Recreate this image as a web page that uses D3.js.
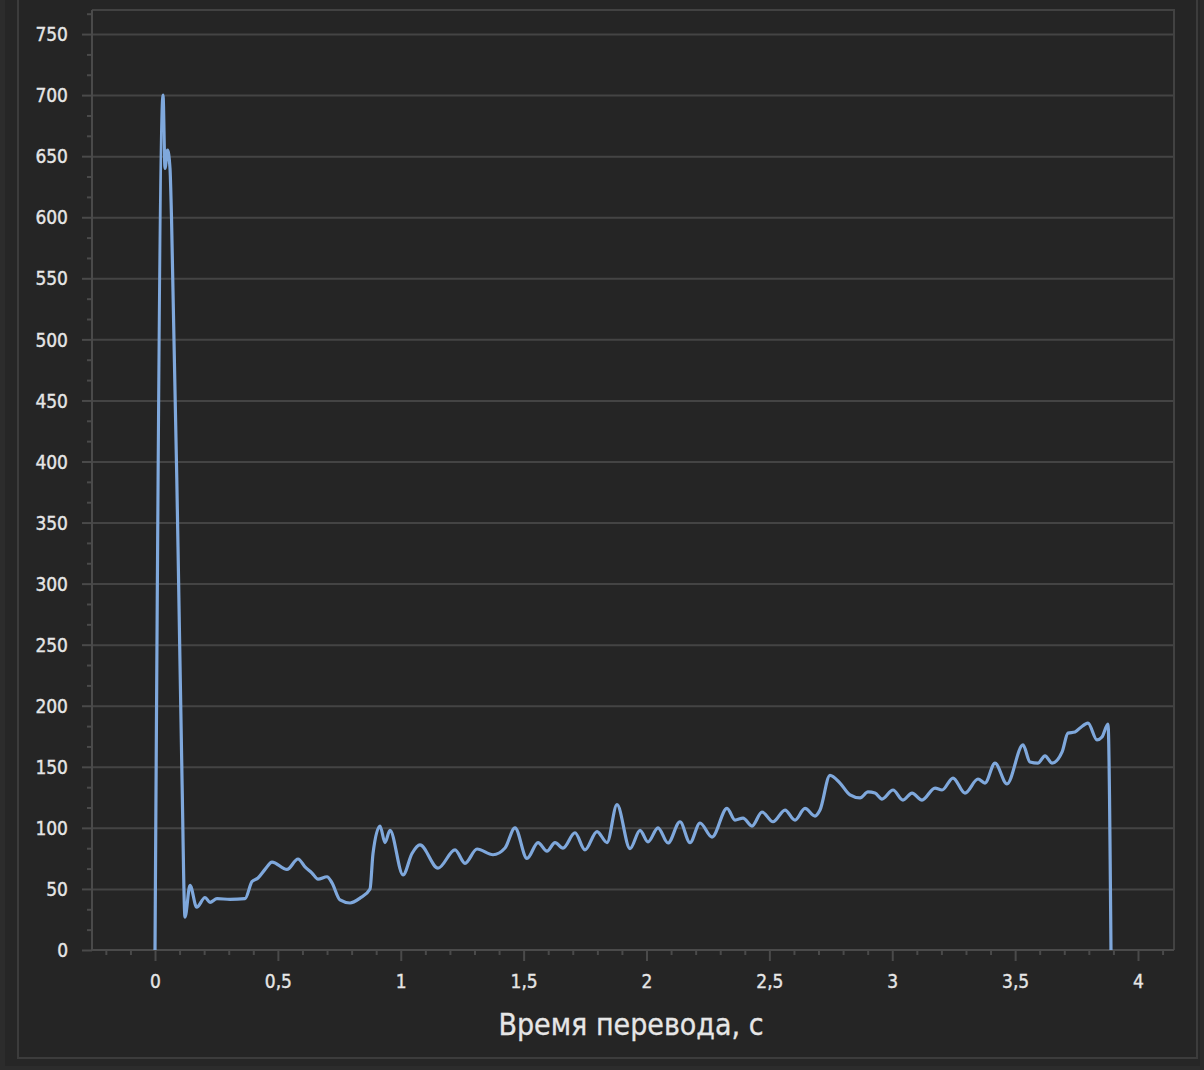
<!DOCTYPE html>
<html>
<head>
<meta charset="utf-8">
<script src="https://cdn.jsdelivr.net/npm/d3@7"></script>
<style>
  html, body { margin: 0; padding: 0; background: #2c2c2c; }
  svg { display: block; }
  .tick text { font-family: 'DejaVu Sans Condensed', 'DejaVu Sans', sans-serif; font-stretch: condensed; }
</style>
</head>
<body>
<svg id="chart" width="1204" height="1070"></svg>
<script>
// Time, s
const timeS = [
  0.000, 0.0326, 0.0407, 0.051, 0.061, 0.0671, 0.0936, 0.1099, 0.1221, 0.1424,
  0.1697, 0.2035, 0.2238, 0.2523, 0.3052, 0.3662, 0.3947, 0.4191, 0.4476, 0.4761,
  0.5371, 0.5819, 0.6104, 0.6389, 0.6633, 0.6999, 0.7202, 0.7528, 0.7935, 0.8342,
  0.8749, 0.8871, 0.9156, 0.9359, 0.9562, 1.0092, 1.0458, 1.0783, 1.1516, 1.2208,
  1.2614, 1.3103, 1.3754, 1.4242, 1.4649, 1.5137, 1.5585, 1.5951, 1.6277, 1.6602,
  1.7090, 1.7497, 1.7986, 1.8393, 1.8799, 1.9329, 1.9735, 2.0061, 2.0468, 2.0875,
  2.1363, 2.1770, 2.2177, 2.2665, 2.3276, 2.3601, 2.3927, 2.4293, 2.4700, 2.5148,
  2.5636, 2.6043, 2.6450, 2.6857, 2.7060, 2.7467, 2.7874, 2.8281, 2.8688, 2.9013,
  2.9298, 2.9583, 3.0031, 3.0437, 3.0804, 3.1211, 3.1740, 3.2025, 3.2472, 3.2960,
  3.3490, 3.3774, 3.4181, 3.4669, 3.5320, 3.5605, 3.5931, 3.6216, 3.6501, 3.6907,
  3.7152, 3.7436, 3.7640, 3.7965, 3.8332, 3.8535, 3.8779, 3.8901
];
// Measured value
const value = [
  0, 700, 640, 655, 640, 600, 330, 140, 27, 53,
  35, 43, 39, 42, 41.5, 42, 56, 59, 66, 72,
  66, 74.5, 68, 63, 58, 60, 55, 41, 38.5, 42.5,
  50, 79, 101.5, 88, 98, 61.5, 79, 86, 67, 82,
  71, 82.7, 78, 83.5, 100, 75, 88, 81, 88, 83.5,
  96, 82, 97, 88, 119, 83, 98, 88.5, 100, 87.6,
  105, 88, 104, 92.5, 116, 106.4, 108, 101.5, 113, 105,
  114.6, 106.4, 116, 109.7, 114.6, 143, 136.7, 127, 124.5, 129.4,
  128.5, 123.6, 131, 122.8, 128.5, 122.8, 132.6, 131, 140.8, 128.5,
  140, 136.7, 153, 136, 167.9, 154, 153, 159, 153, 162,
  177.6, 178.5, 181.8, 185.8, 172, 174.4, 185, 0
];

const xTickValues = [0, 0.5, 1, 1.5, 2, 2.5, 3, 3.5, 4];
const xTickLabels = ["0", "0,5", "1", "1,5", "2", "2,5", "3", "3,5", "4"];
const yTickValues = [0, 50, 100, 150, 200, 250, 300, 350, 400, 450, 500, 550, 600, 650, 700, 750];
const yTickLabels = yTickValues.map(String);
const xTitle = "Время перевода, с";

const xDomain = [-0.2564, 4.1465];
const yDomain = [0, 769.7];

const svg = d3.select("#chart");
const plot = { left: 92, right: 1174, top: 10, bottom: 950 };

// window panel and frame
svg.append("rect").attr("x", 5).attr("y", -10).attr("width", 1195).attr("height", 1076).attr("fill", "#262626");
svg.append("rect").attr("x", 18).attr("y", -10).attr("width", 1179).attr("height", 1068)
  .attr("fill", "#252525").attr("stroke", "#3c3c3c").attr("stroke-width", 2);

const x = d3.scaleLinear().domain(xDomain).range([plot.left, plot.right]);
const y = d3.scaleLinear().domain(yDomain).range([plot.bottom, plot.top]);

// horizontal grid
const grid = svg.append("g").attr("transform", `translate(${plot.left},0)`)
  .call(d3.axisLeft(y).tickValues(yTickValues.slice(1)).tickSize(-(plot.right - plot.left)).tickFormat(""));
grid.select(".domain").remove();
grid.selectAll("line").attr("stroke", "#444444").attr("stroke-width", 2);

// plot border (top / right)
svg.append("path")
  .attr("d", `M${plot.left},${plot.top}H${plot.right}V${plot.bottom}`)
  .attr("fill", "none").attr("stroke", "#424242").attr("stroke-width", 2);

// minor ticks
const yMinor = d3.range(0, 770, 50 / 3).filter(v => Math.abs(v / 50 - Math.round(v / 50)) > 1e-6);
const xMinor = d3.range(-2, 42).map(k => k / 10).filter(v => Math.abs(v * 2 - Math.round(v * 2)) > 1e-6);

const yMin = svg.append("g").attr("transform", `translate(${plot.left},0)`)
  .call(d3.axisLeft(y).tickValues(yMinor).tickSize(5).tickFormat(""));
yMin.select(".domain").remove();
yMin.selectAll("line").attr("stroke", "#4a4a4a").attr("stroke-width", 2);

const xMin = svg.append("g").attr("transform", `translate(0,${plot.bottom})`)
  .call(d3.axisBottom(x).tickValues(xMinor).tickSize(5).tickFormat(""));
xMin.select(".domain").remove();
xMin.selectAll("line").attr("stroke", "#4a4a4a").attr("stroke-width", 2);

// major axes
const yAxis = svg.append("g").attr("transform", `translate(${plot.left},0)`)
  .call(d3.axisLeft(y).tickValues(yTickValues).tickSize(10).tickPadding(14)
    .tickFormat((d, i) => yTickLabels[i]));
yAxis.select(".domain").attr("stroke", "#4a4a4a").attr("stroke-width", 2)
  .attr("d", `M0,${plot.top}V${plot.bottom}`);
yAxis.selectAll("line").attr("stroke", "#4a4a4a").attr("stroke-width", 2);
yAxis.selectAll("text").attr("fill", "#e6e6e6").attr("stroke", "#e6e6e6").attr("stroke-width", 0.35)
  .style("font-size", "19px").attr("dy", "0.35em");

const xAxis = svg.append("g").attr("transform", `translate(0,${plot.bottom})`)
  .call(d3.axisBottom(x).tickValues(xTickValues).tickSize(11).tickPadding(14)
    .tickFormat((d, i) => xTickLabels[i]));
xAxis.select(".domain").attr("stroke", "#4a4a4a").attr("stroke-width", 2)
  .attr("d", `M${plot.left},0H${plot.right}`);
xAxis.selectAll("line").attr("stroke", "#4a4a4a").attr("stroke-width", 2);
xAxis.selectAll("text").attr("fill", "#e6e6e6").attr("stroke", "#e6e6e6").attr("stroke-width", 0.35)
  .style("font-size", "19px");

// axis title
svg.append("text")
  .attr("x", (plot.left + plot.right) / 2 - 2).attr("y", 1035)
  .attr("text-anchor", "middle")
  .attr("fill", "#e6e6e6")
  .attr("stroke", "#e6e6e6").attr("stroke-width", 0.3)
  .style("font-family", "'DejaVu Sans Condensed', 'DejaVu Sans', sans-serif")
  .style("font-stretch", "condensed")
  .style("font-size", "30px")
  .text(xTitle);

// series
const series = timeS.map((t, i) => ({ t, v: value[i] }));
const line = d3.line().x(d => x(d.t)).y(d => y(d.v)).curve(d3.curveMonotoneX);
svg.append("path")
  .datum(series)
  .attr("d", line)
  .attr("fill", "none")
  .attr("stroke", "#7fa8dc")
  .attr("stroke-width", 3.2)
  .attr("stroke-linejoin", "round");
</script>
</body>
</html>
